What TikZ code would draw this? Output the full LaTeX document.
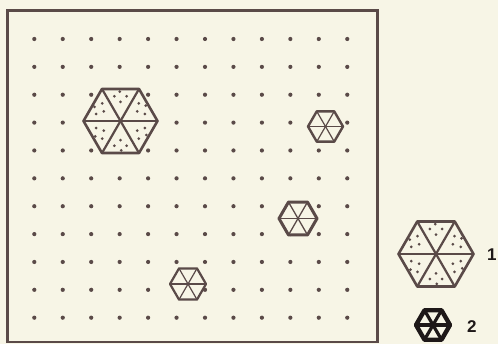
\documentclass[tikz,border=0pt]{standalone}
\usepackage{tikz}
\usetikzlibrary{calc}
\usepackage{xcolor}
\usepackage{fontspec}
\newfontfamily\labelfont{Liberation Sans}
\definecolor{paper}{HTML}{F7F5E6}
\definecolor{ink}{HTML}{5A4A48}
\definecolor{darkink}{HTML}{1E1818}

\begin{document}
\begin{tikzpicture}[x=1pt,y=-1pt,
    hexline/.style={draw=ink, line join=round, fill=paper},
    spoke/.style={ink, line cap=round},
    legendnum/.style={anchor=west, inner sep=0pt, text=darkink, font=\labelfont\bfseries\fontsize{17}{17}\selectfont}]
    \useasboundingbox[fill=paper] (0,0) rectangle (498,344);

    % 点阵与边框
    \draw[ink, line width=2.6pt] (7.5,10.5) rectangle (377.5,342);
    \foreach \i in {0,...,11}
        \foreach \j in {0,...,10}
            \fill[ink] ({34.3+28.45*\i},{39+27.87*\j}) circle (2.1pt);

    % 大六边形 (带点)
    \foreach \x/\y/\r in {120.5/121/37, 436/254/37.5} {
        \begin{scope}[shift={(\x,\y)}]
            \draw[hexline, line width=2.6pt] (0:\r) -- (60:\r) -- (120:\r) -- (180:\r) -- (240:\r) -- (300:\r) -- cycle;
            \foreach \t in {0,60,...,300}
                \foreach \a/\b in {0.55/0.22, 0.22/0.55, 0.3/0.3, 0.48/0.44}
                    \fill[ink] ({\r*(\a*cos(\t)+\b*cos(\t+60))},{\r*(\a*sin(\t)+\b*sin(\t+60))}) circle (1.5pt);
            \foreach \t in {0,60,120}
                \draw[spoke, line width=2.2pt] (\t:\r) -- (\t+180:\r);
        \end{scope}
    }

    % 小六边形
    \foreach \x/\y/\r/\lw/\sw/\c in {325.5/126.5/17.5/2.4/1.2/ink, 298/218.5/19/3/1.3/ink, 188/284/18/2.2/1.2/ink, 433/325/17/4.4/3.2/darkink} {
        \begin{scope}[shift={(\x,\y)}]
            \draw[hexline, draw=\c, line width=\lw pt] (0:\r) -- (60:\r) -- (120:\r) -- (180:\r) -- (240:\r) -- (300:\r) -- cycle;
            \foreach \t in {0,60,120}
                \draw[spoke, \c, line width=\sw pt] (\t:\r) -- (\t+180:\r);
        \end{scope}
    }

    % 图例标号
    \node[legendnum] (one) at (487,255) {1};
    \node[legendnum] (two) at (467,327) {2};
\end{tikzpicture}
\end{document}
